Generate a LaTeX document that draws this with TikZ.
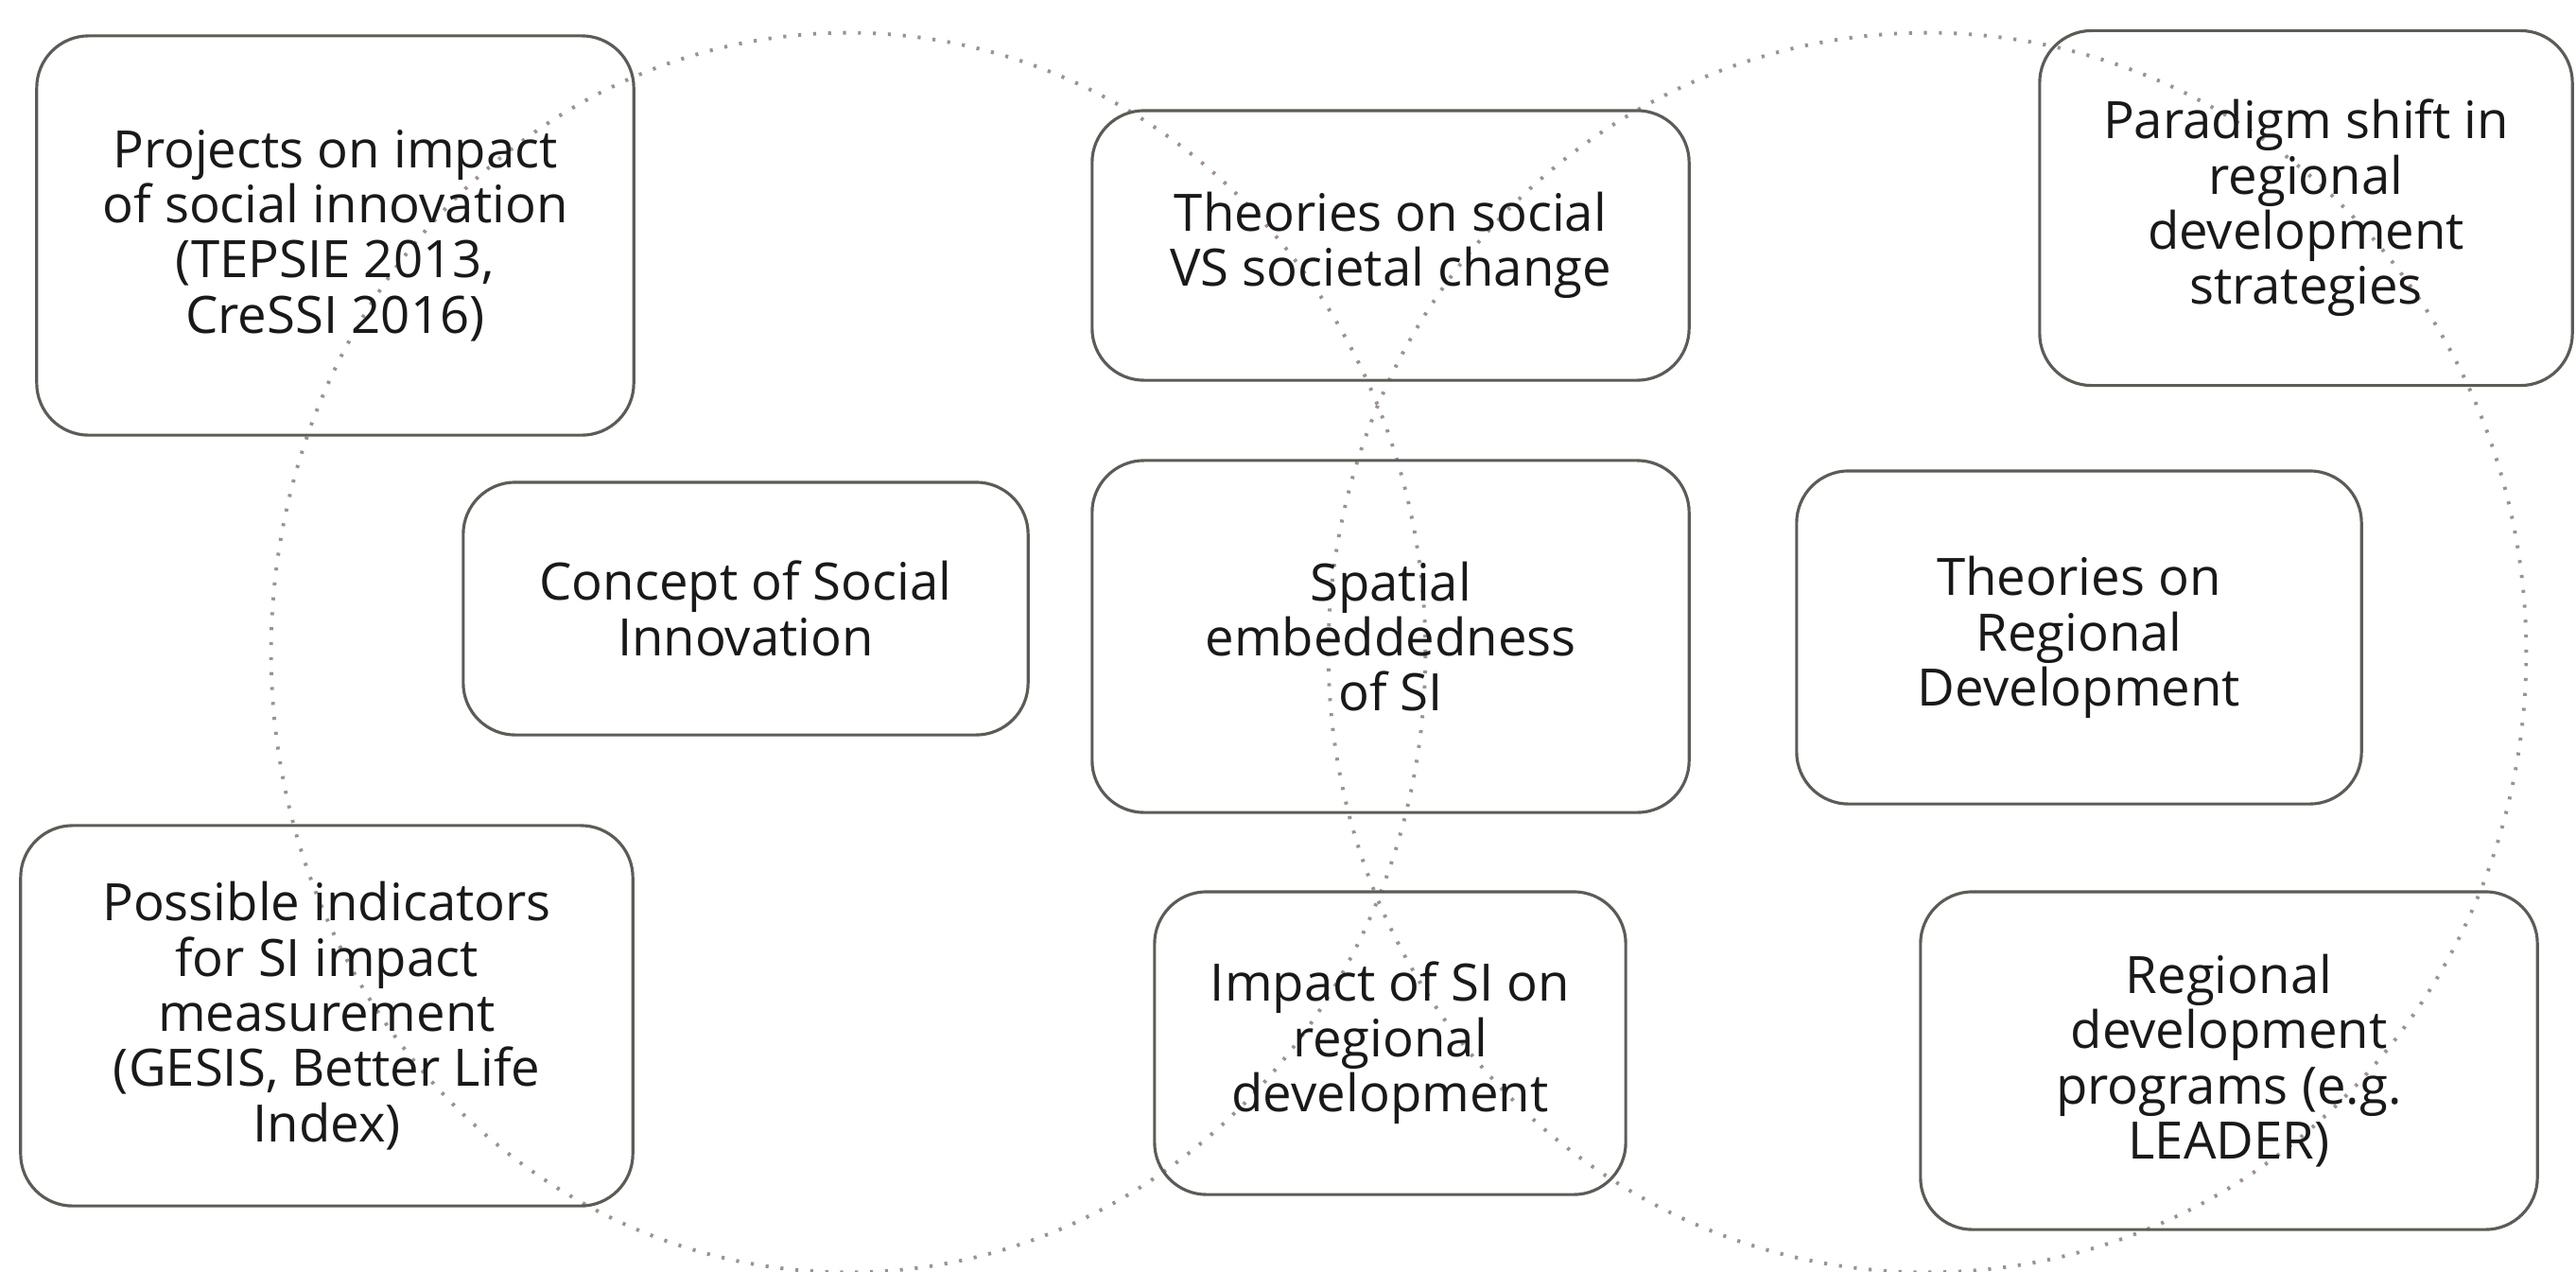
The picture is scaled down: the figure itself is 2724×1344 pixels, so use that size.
\documentclass[tikz,border=0pt]{standalone}
\usepackage{fontspec}
\setmainfont{Open Sans}

\definecolor{boxgrey}{rgb}{0.36, 0.36, 0.34}
\definecolor{dotgrey}{rgb}{0.62, 0.57, 0.57}
\definecolor{inkgrey}{rgb}{0.1, 0.1, 0.1}

\begin{document}
\begin{tikzpicture}[x=0.01cm,y=-0.01cm,
        topic/.style={draw=boxgrey,line width=0.9pt,rounded corners=0.55cm,
            align=center,inner sep=0pt,text=inkgrey,
            font=\fontsize{15.5}{16.6}\selectfont},
        ring/.style={dotgrey,line width=1.1pt,dash pattern=on 0.9pt off 3.6pt}]
        
        %\draw [help lines] (0,0) grid[step=1cm] (2724,1344);
        \useasboundingbox (0,0) rectangle (2724,1344);
        
        \draw [ring] (897,690) ellipse [x radius=6.10cm, y radius=6.55cm];
        \draw [ring] (2038,690) ellipse [x radius=6.33cm, y radius=6.55cm];
        
        
        
        \node[topic, minimum width=6.31cm, minimum height=4.22cm] (proj) at (354.5,249)
            {Projects on impact\\of social innovation\\(TEPSIE 2013,\\CreSSI 2016)};
        \node[topic, minimum width=6.31cm, minimum height=2.85cm] (change) at (1470.5,259.5)
            {Theories on social\\VS societal change};
        \node[topic, minimum width=5.63cm, minimum height=3.75cm] (shift) at (2438.5,220)
            {Paradigm shift in\\regional\\development\\strategies};
        
        \node[topic, minimum width=5.97cm, minimum height=2.67cm] (concept) at (788.5,643.5)
            {Concept of Social\\Innovation};
        \node[topic, minimum width=6.31cm, minimum height=3.72cm] (spatial) at (1470.5,673)
            {Spatial\\embeddedness\\of SI};
        \node[topic, minimum width=5.97cm, minimum height=3.52cm] (regtheory) at (2198.5,674)
            {Theories on\\Regional\\Development};
        
        \node[topic, minimum width=6.47cm, minimum height=4.02cm] (indic) at (345.5,1074)
            {Possible indicators\\for SI impact\\measurement\\(GESIS, Better Life\\Index)};
        \node[topic, minimum width=4.98cm, minimum height=3.20cm] (impact) at (1470,1103)
            {Impact of SI on\\regional\\development};
        \node[topic, minimum width=6.52cm, minimum height=3.57cm] (progs) at (2357,1121.5)
            {Regional\\development\\programs (e.g.\\LEADER)};
        
    \end{tikzpicture}
\end{document}
